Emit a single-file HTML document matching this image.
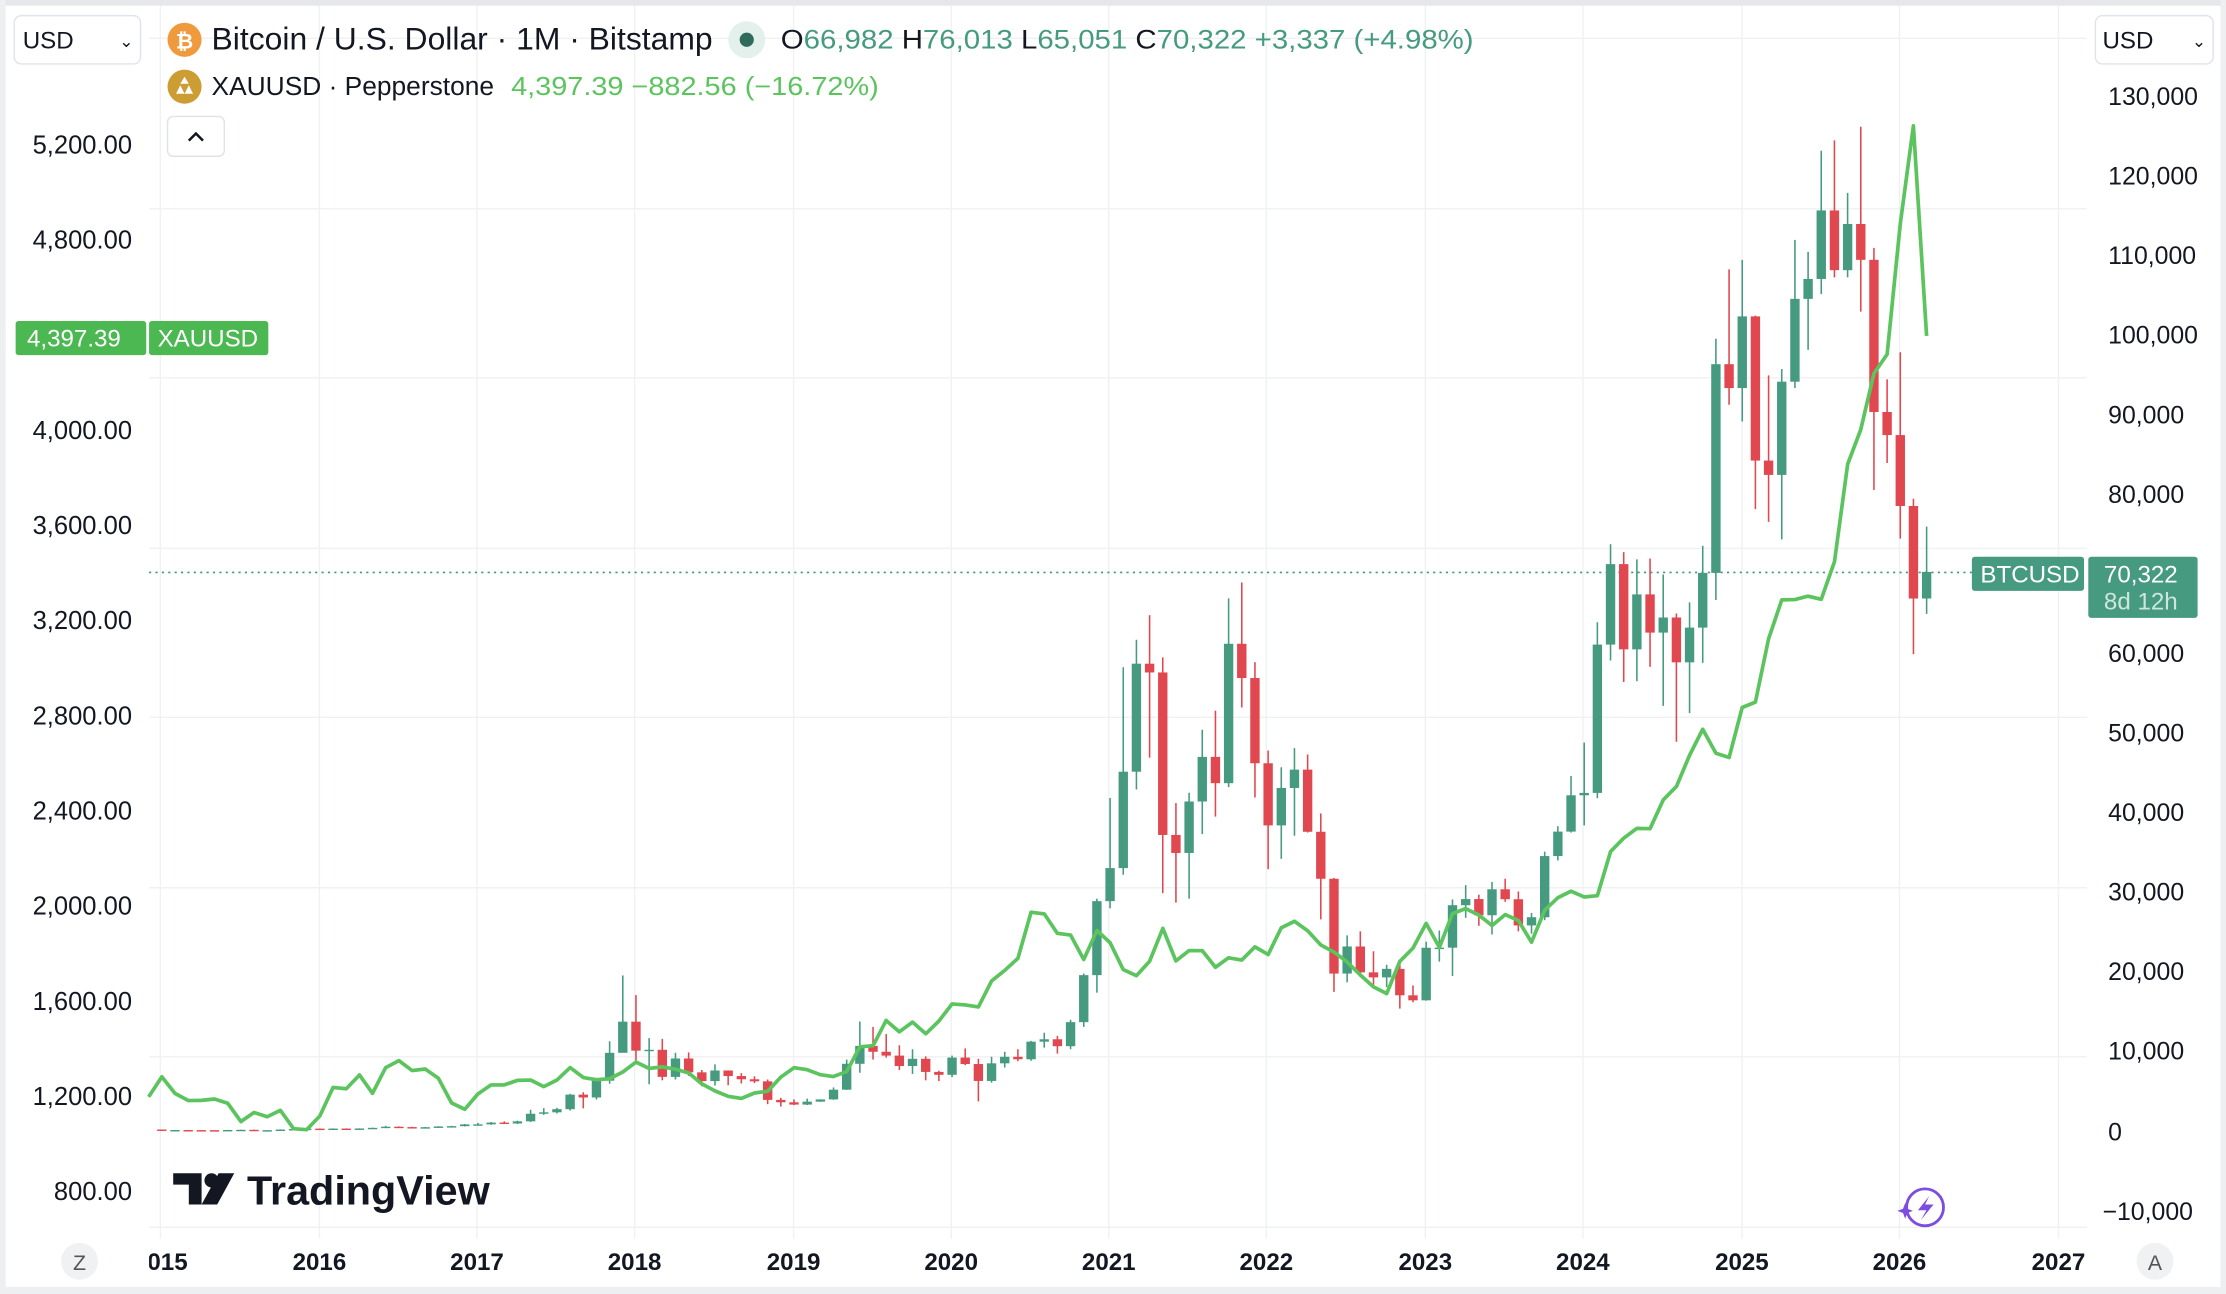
<!DOCTYPE html>
<html><head><meta charset="utf-8"><style>
html,body{margin:0;padding:0;background:#fff;}
svg{display:block;font-family:"Liberation Sans",sans-serif;}
</style></head><body>
<svg id="s" width="2226" height="1294" viewBox="0 0 1568 911" preserveAspectRatio="none" xmlns="http://www.w3.org/2000/svg">
<rect x="0" y="0" width="1568" height="911" fill="#fff"/>
<rect x="0" y="0" width="1568" height="4" fill="#e6e7ea"/>
<rect x="0" y="0" width="4" height="911" fill="#eeeff1"/>
<rect x="1564" y="0" width="4" height="911" fill="#eeeff1"/>
<rect x="0" y="906" width="1568" height="5" fill="#eeeff1"/>
<g id="grid" stroke="#f0f1f3" stroke-width="1"></g>
<line x1="105" y1="403" x2="1390" y2="403" stroke="#3f967c" stroke-width="1.2" stroke-dasharray="1.5,3"/>
<g id="candles"></g>
<polyline id="gold" fill="none" stroke="#5cc45e" stroke-width="2.6" stroke-linejoin="round"/>
<!-- left axis -->
<g font-size="18" fill="#131722" text-anchor="end">
<text x="93" y="108">5,200.00</text>
<text x="93" y="175">4,800.00</text>
<text x="93" y="309">4,000.00</text>
<text x="93" y="376">3,600.00</text>
<text x="93" y="443">3,200.00</text>
<text x="93" y="510">2,800.00</text>
<text x="93" y="577">2,400.00</text>
<text x="93" y="644">2,000.00</text>
<text x="93" y="711">1,600.00</text>
<text x="93" y="778">1,200.00</text>
<text x="93" y="845">800.00</text>
</g>
<rect x="11" y="226" width="92" height="24" rx="2" fill="#4cb852"/>
<rect x="105" y="226" width="84" height="24" rx="2" fill="#4cb852"/>
<text x="19" y="244" font-size="17" fill="#fff">4,397.39</text>
<text x="111" y="244" font-size="17" fill="#fff">XAUUSD</text>
<!-- right axis -->
<g font-size="17.5" fill="#131722">
<text x="1485" y="74">130,000</text>
<text x="1485" y="130">120,000</text>
<text x="1485" y="186">110,000</text>
<text x="1485" y="242">100,000</text>
<text x="1485" y="298">90,000</text>
<text x="1485" y="354">80,000</text>
<text x="1485" y="466">60,000</text>
<text x="1485" y="522">50,000</text>
<text x="1485" y="578">40,000</text>
<text x="1485" y="634">30,000</text>
<text x="1485" y="690">20,000</text>
<text x="1485" y="746">10,000</text>
<text x="1485" y="803">0</text>
<text x="1481" y="859">−10,000</text>
</g>
<rect x="1389" y="392" width="79" height="24" rx="2" fill="#459a7f"/>
<text x="1395" y="410" font-size="17" fill="#fff">BTCUSD</text>
<rect x="1471" y="392" width="77" height="43" rx="2" fill="#459a7f"/>
<text x="1482" y="410" font-size="17" fill="#fff">70,322</text>
<text x="1482" y="429" font-size="17" fill="#cfe6dd">8d 12h</text>
<!-- time axis -->
<g font-size="17" font-weight="bold" fill="#131722" text-anchor="middle">
<text x="118" y="894">015</text>
<text x="225" y="894">2016</text>
<text x="336" y="894">2017</text>
<text x="447" y="894">2018</text>
<text x="559" y="894">2019</text>
<text x="670" y="894">2020</text>
<text x="781" y="894">2021</text>
<text x="892" y="894">2022</text>
<text x="1004" y="894">2023</text>
<text x="1115" y="894">2024</text>
<text x="1227" y="894">2025</text>
<text x="1338" y="894">2026</text>
<text x="1450" y="894">2027</text>
</g>
<rect x="100" y="870" width="5" height="30" fill="#fff"/>
<circle cx="56" cy="888" r="13" fill="#f0f1f3"/>
<text x="56" y="894" font-size="15" fill="#555" text-anchor="middle">Z</text>
<circle cx="1518" cy="888" r="13" fill="#f0f1f3"/>
<text x="1518" y="894" font-size="15" fill="#555" text-anchor="middle">A</text>
<!-- header -->
<rect x="10" y="11" width="89" height="34" rx="5" fill="#fff" stroke="#e0e3eb"/>
<text x="16" y="34" font-size="17" fill="#131722">USD</text>
<text x="84" y="33" font-size="12" fill="#131722">⌄</text>
<rect x="1476" y="11" width="83" height="34" rx="5" fill="#fff" stroke="#e0e3eb"/>
<text x="1481" y="34" font-size="17" fill="#131722">USD</text>
<text x="1544" y="33" font-size="12" fill="#131722">⌄</text>
<circle cx="130" cy="28" r="12" fill="#f09a3e"/>
<text x="130" y="34" font-size="15" font-weight="bold" fill="#fff" text-anchor="middle">₿</text>
<text x="149" y="35" font-size="22" fill="#131722" textLength="353" lengthAdjust="spacingAndGlyphs">Bitcoin / U.S. Dollar · 1M · Bitstamp</text>
<circle cx="526" cy="28" r="13" fill="#e3f0ec"/>
<circle cx="526" cy="28" r="5" fill="#2e6b5a"/>
<text x="550" y="34" font-size="19" fill="#131722" textLength="488" lengthAdjust="spacingAndGlyphs">O<tspan fill="#459a7f">66,982</tspan> H<tspan fill="#459a7f">76,013</tspan> L<tspan fill="#459a7f">65,051</tspan> C<tspan fill="#459a7f">70,322 +3,337 (+4.98%)</tspan></text>
<circle cx="130" cy="61" r="12" fill="#cc9d33"/>
<path d="M124 66 L127 60 L130 66 Z M130 66 L133 60 L136 66 Z M127 59 L130 54 L133 59 Z" fill="#fff"/>
<text x="149" y="67" font-size="18" fill="#131722" textLength="199" lengthAdjust="spacingAndGlyphs">XAUUSD · Pepperstone</text>
<text x="360" y="67" font-size="18" fill="#5cc45e" textLength="259" lengthAdjust="spacingAndGlyphs">4,397.39  −882.56 (−16.72%)</text>
<rect x="118" y="82" width="40" height="28" rx="4" fill="#fff" stroke="#e0e3eb"/>
<path d="M133 99 L138 94 L143 99" fill="none" stroke="#131722" stroke-width="1.8"/>
<!-- logo -->
<g fill="#131722">
<path d="M122 826 H142 V848 H133 V834 H122 Z"/>
<circle cx="149" cy="831" r="5"/>
<path d="M154 826 H165 L153 848 H142 Z"/>
<text x="174" y="848" font-size="29" font-weight="bold" textLength="171" lengthAdjust="spacingAndGlyphs">TradingView</text>
</g>
<!-- lightning -->
<circle cx="1356" cy="850" r="13" fill="none" stroke="#7d4de0" stroke-width="2"/>
<path d="M1359 842 L1351 852 H1357 L1353 859 L1362 848 H1356 Z" fill="#7d4de0"/>
<path d="M1342 847 l1.5 4 l4 1.5 l-4 1.5 l-1.5 4 l-1.5 -4 l-4 -1.5 l4 -1.5 Z" fill="#7d4de0"/>
</svg>
<script>
(function(){
var NS="http://www.w3.org/2000/svg";
function el(p,t,a){var e=document.createElementNS(NS,t);for(var k in a)e.setAttribute(k,a[k]);p.appendChild(e);return e;}
var g=document.getElementById('grid');
[27,147,266,386,505,625,744,864].forEach(function(y){el(g,'line',{x1:105,x2:1470,y1:y,y2:y});});
[113,225,336,447,559,670,781,892,1004,1115,1227,1338,1450].forEach(function(x){el(g,'line',{x1:x,x2:x,y1:4,y2:872});});
function X(i){return 114+i*9.277;}
function YB(v){return 797-v*0.005608;}
function YG(v){return 839-(v-800)*0.1675;}
var b=[
[320,217,320,152],[217,254],[254,244],[244,236],[236,230],[230,263],[263,284],[284,230],[230,236],[236,314],[314,377,500],[377,430,465],
[430,368],[368,437],[437,416],[416,448],[448,531],[531,673,780],[673,624],[624,573],[573,609],[609,698],[698,742],[742,963],
[963,970,1150],[970,1190],[1190,1080,1350],[1080,1350],[1350,2300,2800],[2300,2480,3000],[2480,2875],[2875,4700,4800],[4700,4340,5000,2980],[4340,6450,6500],[6450,9950,11400],[9950,13860,19666,10700],
[13860,10220,17200,9000],[10220,10330,11800,6000],[10330,6930,11700,6500],[6930,9240,9950,6600],[9240,7500,10000,7050],[7500,6400,7800,5750],[6400,7730,8500,5850],[7730,7030,7750,5880],[7030,6630,7400,6100],[6630,6370,7000,6150],[6370,4040,6600,3500],[4040,3740,4300,3200],
[3740,3450,4100,3380],[3450,3820,4200,3400],[3820,4100,4100,3800],[4100,5320,5600,4050],[5320,8570,9100,5300],[8570,10820,13880,7450],[10820,10080,13200,9100],[10080,9600,12300,9350],[9600,8290,10900,7800],[8290,9200,10400,7300],[9200,7550,9500,6500],[7550,7190,7700,6400],
[7190,9350,9600,6900],[9350,8540,10500,8400],[8540,6420,9200,3850],[6420,8630,9460,6200],[8630,9450,10080,8100],[9450,9140,10400,8900],[9140,11350,11450,8950],[11350,11650,12470,10600],[11650,10780,12080,9850],[10780,13800,14100,10400],[13800,19700,19900,13200],[19700,28990,29300,17500],
[28990,33140,41950,28100],[33140,45240,58350,32300],[45240,58800,61800,43000],[58800,57700,64900,47000],[57700,37300,59600,30000],[37300,35040,41300,28800],[35040,41500,42600,29300],[41500,47100,50500,37400],[47100,43800,52900,39600],[43800,61300,67000,43300],[61300,57000,69000,53300],[57000,46300,59000,42000],
[46300,38500,47900,33000],[38500,43200,45800,34300],[43200,45500,48200,37200],[45500,37700,47400,37600],[37700,31800,40000,26700],[31800,19900,31900,17600],[19900,23300,24700,18800],[23300,20050,25200,19600],[20050,19420,22700,18100],[19420,20490,21000,18200],[20490,17170,21400,15500],[17170,16540,18400,16300],
[16540,23140,23900,16500],[23140,23150,25300,21400],[23150,28480,29200,19600],[28480,29250,31000,26900],[29250,27220,29800,25900],[27220,30480,31400,24800],[30480,29230,31800,28900],[29230,25940,30200,25200],[25940,26970,27500,24900],[26970,34650,35200,26600],[34650,37720,38400,34100],[37720,42280,44700,37600],
[42280,42580,48900,38500],[42580,61200,64000,41900],[61200,71300,73800,59200],[71300,60600,72800,56500],[60600,67500,71900,56600],[67500,62700,72000,58400],[62700,64600,70000,53500],[64600,58970,65100,49000],[58970,63330,66500,52600],[63330,70200,73600,58900],[70200,96400,99600,66800],[96400,93400,108300,91300],
[93400,102400,109500,89200],[102400,84300,102500,78200],[84300,82500,95000,76600],[82500,94200,95800,74400],[94200,104600,112000,93400],[104600,107100,110500,98200],[107100,115700,123200,105200],[115700,108200,124500,107300],[108200,114000,117900,107300],[114000,109500,126200,103000],[109500,90400,111000,80600],[90400,87500,94500,84000],
[87500,78600,97900,74500],[78600,66980,79500,60000],[66982,70322,76013,65051]
];
var c=document.getElementById('candles');
b.forEach(function(d,i){
 var o=d[0],cl=d[1],h=d[2]||Math.max(o,cl)*1.06,l=d[3]||Math.min(o,cl)*0.94;
 var col=cl>=o?'#459a7f':'#e0474f',x=X(i);
 el(c,'line',{x1:x,x2:x,y1:YB(h),y2:YB(l),stroke:col,'stroke-width':1.1});
 var y1=YB(Math.max(o,cl)),y2=YB(Math.min(o,cl));
 el(c,'rect',{x:x-3.3,y:y1,width:6.6,height:Math.max(y2-y1,1),fill:col});
});
var gd=[1199,1283,1213,1183,1184,1190,1172,1095,1133,1115,1142,1065,1061,
1118,1238,1233,1291,1214,1322,1351,1309,1316,1277,1173,1146,
1211,1249,1249,1268,1269,1242,1269,1322,1280,1271,1275,1303,
1345,1318,1325,1315,1299,1253,1224,1201,1192,1215,1222,1282,
1321,1313,1292,1284,1305,1409,1414,1520,1472,1513,1464,1517,
1589,1585,1577,1686,1730,1781,1975,1968,1886,1879,1776,1898,
1847,1734,1708,1769,1907,1770,1814,1813,1743,1783,1774,1829,
1797,1909,1937,1897,1837,1807,1766,1711,1661,1633,1768,1824,
1928,1827,1969,1990,1963,1919,1965,1940,1849,1983,2036,2063,
2039,2044,2230,2286,2327,2326,2447,2503,2634,2744,2643,2625,
2835,2858,3124,3288,3289,3303,3290,3448,3858,4003,4239,4320,
4870,5280,4397];
var pts=gd.map(function(v,i){return X(i-1).toFixed(1)+','+YG(v).toFixed(1);}).join(' ');
document.getElementById('gold').setAttribute('points',pts);
})();
</script>
</body></html>
